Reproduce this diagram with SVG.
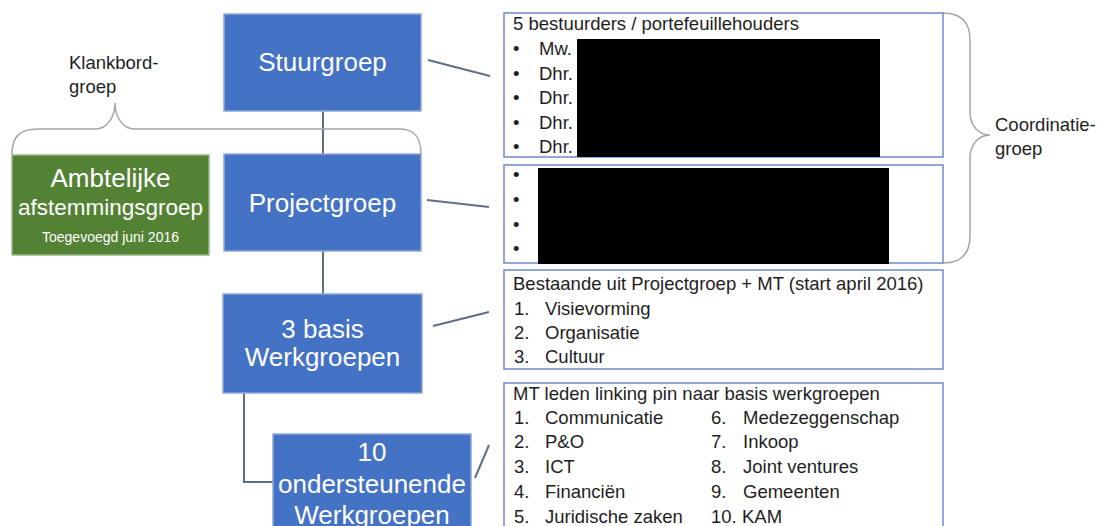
<svg xmlns="http://www.w3.org/2000/svg" width="1101" height="526" viewBox="0 0 1101 526">
<style>
.blue{fill:#4472C4;stroke:#8EA9DB;stroke-width:1.5}
.green{fill:#548235;stroke:#9DB88A;stroke-width:1.5}
.panel{fill:#fff;stroke:#6F8BCB;stroke-width:1.5}
.lbl{font-family:"Liberation Sans",Arial,sans-serif;fill:#fff;text-anchor:middle}
.big{font-size:26px}
.t{font-family:"Liberation Sans",Arial,sans-serif;font-size:18.5px;fill:#1e1e1e}
.conn{stroke:#5E6F86;stroke-width:2;fill:none}
.brace{stroke:#A6A6A6;stroke-width:1.5;fill:none}
.redact{fill:#000}
</style>
<g id="connectors">
<line class="conn" x1="323" y1="111" x2="323" y2="154"/>
<line class="conn" x1="323" y1="251" x2="323" y2="294"/>
<polyline class="conn" points="244,393 244,482 273,482"/>
<line class="conn" x1="428" y1="60" x2="490" y2="76"/>
<line class="conn" x1="427" y1="200" x2="489" y2="207"/>
<line class="conn" x1="433" y1="326" x2="489" y2="312"/>
<line class="conn" x1="475" y1="478" x2="489" y2="445"/>
</g>
<g id="klankbord">
<path class="brace" d="M12,155 C12,138 18,129 38,129 L95,129 C108,129 115,116 115,103 C115,116 122,129 135,129 L400,129 C415,129 421,138 421,155"/>
<text class="t" x="69" y="69">Klankbord-</text>
<text class="t" x="69" y="93">groep</text>
</g>
<g id="coordinatie">
<path class="brace" d="M943,13 C961,13 970,22 970,40 L970,112 C970,126 979,135 990,135 C979,135 970,144 970,158 L970,236 C970,254 961,263 943,263"/>
<text class="t" x="995" y="131">Coordinatie-</text>
<text class="t" x="995" y="155">groep</text>
</g>
<g id="stuurgroep">
<rect class="blue" x="224" y="14" width="197" height="97"/>
<text class="lbl big" x="322.5" y="71">Stuurgroep</text>
</g>
<g id="projectgroep">
<rect class="blue" x="224" y="154" width="197" height="97"/>
<text class="lbl big" x="322.5" y="212">Projectgroep</text>
</g>
<g id="ambtelijke">
<rect class="green" x="12" y="155" width="197" height="100"/>
<text class="lbl" x="110.5" y="187" font-size="26">Ambtelijke</text>
<text class="lbl" x="110.5" y="215" font-size="22.5">afstemmingsgroep</text>
<text class="lbl" x="110.5" y="242" font-size="14">Toegevoegd juni 2016</text>
</g>
<g id="basis">
<rect class="blue" x="223" y="294" width="199" height="99"/>
<text class="lbl big" x="322.5" y="338">3 basis</text>
<text class="lbl big" x="322.5" y="366">Werkgroepen</text>
</g>
<g id="ondersteunend">
<rect class="blue" x="273" y="434" width="198" height="110"/>
<text class="lbl big" x="372" y="461">10</text>
<text class="lbl big" x="372" y="493">ondersteunende</text>
<text class="lbl big" x="372" y="524">Werkgroepen</text>
</g>
<g id="panel-stuurgroep">
<rect class="panel" x="504" y="13" width="439" height="144"/>
<text class="t" x="513" y="30">5 bestuurders / portefeuillehouders</text>
<text class="t" x="513" y="55">•</text><text class="t" x="539" y="55">Mw.</text>
<text class="t" x="513" y="80">•</text><text class="t" x="539" y="80">Dhr.</text>
<text class="t" x="513" y="104">•</text><text class="t" x="539" y="104">Dhr.</text>
<text class="t" x="513" y="129">•</text><text class="t" x="539" y="129">Dhr.</text>
<text class="t" x="513" y="153">•</text><text class="t" x="539" y="153">Dhr.</text>
<rect class="redact" x="577" y="39" width="303" height="118"/>
</g>
<g id="panel-projectgroep">
<rect class="panel" x="504" y="165" width="439" height="98"/>
<text class="t" x="513" y="181">•</text>
<text class="t" x="513" y="206">•</text>
<text class="t" x="513" y="231">•</text>
<text class="t" x="513" y="255">•</text>
<rect class="redact" x="538" y="168" width="351" height="96"/>
</g>
<g id="panel-basis">
<rect class="panel" x="504" y="270" width="439" height="99"/>
<text class="t" x="513" y="290">Bestaande uit Projectgroep + MT (start april 2016)</text>
<text class="t" x="514" y="315">1.</text><text class="t" x="545" y="315">Visievorming</text>
<text class="t" x="514" y="339">2.</text><text class="t" x="545" y="339">Organisatie</text>
<text class="t" x="514" y="363">3.</text><text class="t" x="545" y="363">Cultuur</text>
</g>
<g id="panel-ondersteunend">
<rect class="panel" x="504" y="383" width="439" height="160"/>
<text class="t" x="513" y="400">MT leden linking pin naar basis werkgroepen</text>
<text class="t" x="514" y="424">1.</text><text class="t" x="545" y="424">Communicatie</text>
<text class="t" x="514" y="448">2.</text><text class="t" x="545" y="448">P&amp;O</text>
<text class="t" x="514" y="473">3.</text><text class="t" x="545" y="473">ICT</text>
<text class="t" x="514" y="498">4.</text><text class="t" x="545" y="498">Financiën</text>
<text class="t" x="514" y="523">5.</text><text class="t" x="545" y="523">Juridische zaken</text>
<text class="t" x="711" y="424">6.</text><text class="t" x="743" y="424">Medezeggenschap</text>
<text class="t" x="711" y="448">7.</text><text class="t" x="743" y="448">Inkoop</text>
<text class="t" x="711" y="473">8.</text><text class="t" x="743" y="473">Joint ventures</text>
<text class="t" x="711" y="498">9.</text><text class="t" x="743" y="498">Gemeenten</text>
<text class="t" x="711" y="523">10.</text><text class="t" x="742" y="523">KAM</text>
</g>
</svg>
